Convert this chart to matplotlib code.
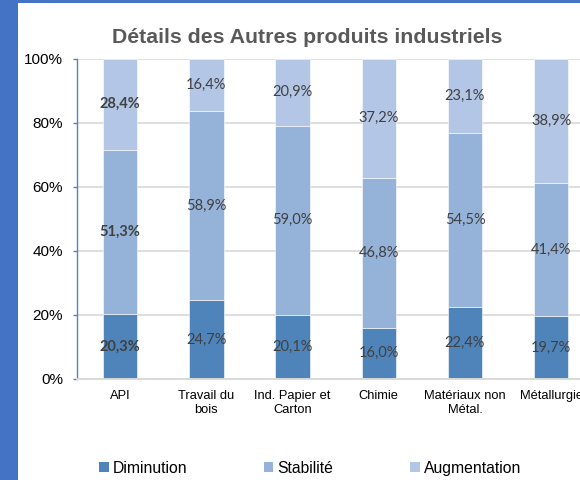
import matplotlib
matplotlib.use("Agg")
import matplotlib.pyplot as plt
from matplotlib.patches import Rectangle, Patch
from matplotlib.ticker import FuncFormatter
import numpy as np

categories = ["API", "Travail du\nbois", "Ind. Papier et\nCarton", "Chimie",
              "Matériaux non\nMétal.", "Métallurgie"]
series_names = ["Diminution", "Stabilité", "Augmentation"]
diminution = [20.3, 24.7, 20.1, 16.0, 22.4, 19.7]
stabilite = [51.3, 58.9, 59.0, 46.8, 54.5, 41.4]
augmentation = [28.4, 16.4, 20.9, 37.2, 23.1, 38.9]
title = "Détails des Autres produits industriels"

colors = ["#4F84BA", "#95B3D9", "#B3C6E6"]
W, H = 580, 480
fig = plt.figure(figsize=(W / 100, H / 100), dpi=100)
fig.patch.set_facecolor("white")

# blue frame (left strip + top strip)
fig.patches.append(Rectangle((0, 0), 17.5 / W, 1, transform=fig.transFigure,
                             facecolor="#4472C4", edgecolor="none", zorder=0))
fig.patches.append(Rectangle((0, 1 - 3 / H), 1, 3 / H, transform=fig.transFigure,
                             facecolor="#4472C4", edgecolor="none", zorder=0))

ax = fig.add_axes([77 / W, 1 - 379 / H, 1 - 77 / W, (379 - 58.7) / H])
x = np.arange(len(categories))
series = [diminution, stabilite, augmentation]
bottom = np.zeros(len(categories))
containers = []
for vals, col, name in zip(series, colors, series_names):
    c = ax.bar(x, vals, width=0.40, bottom=bottom, color=col, label=name,
               edgecolor="white", linewidth=0.4, zorder=2)
    containers.append(c)
    bottom = bottom + np.array(vals)

for c, vals in zip(containers, series):
    labels = [f"{v:.1f}".replace(".", ",") + "%" for v in vals]
    texts = ax.bar_label(c, labels=labels, label_type="center",
                         fontsize=10.5, color="#404040", family="Lato")
    texts[0].set_fontweight("bold")

ax.set_ylim(0, 100)
ax.set_xlim(-0.5, (W - 120.2) / 86.2)
ax.set_yticks([0, 20, 40, 60, 80, 100])
ax.yaxis.set_major_formatter(FuncFormatter(lambda v, p: f"{int(v)}%"))
ax.set_xticks(x)
ax.set_xticklabels(categories, family="Liberation Sans", fontsize=9.3, color="#000000")
for lbl in ax.get_yticklabels():
    lbl.set_family("Liberation Sans")
ax.tick_params(axis="y", labelsize=11, length=3, width=1, color="#4F85C0",
               pad=7, labelcolor="#000000")
ax.tick_params(axis="x", length=0, pad=8)
ax.grid(axis="y", color="#D9D9D9", linewidth=1.2, zorder=0)
ax.set_axisbelow(True)
for s in ["top", "right"]:
    ax.spines[s].set_visible(False)
ax.spines["left"].set_color("#4F85C0")
ax.spines["left"].set_linewidth(1.0)
ax.spines["bottom"].set_color("#D9D9D9")
ax.spines["bottom"].set_linewidth(1.4)

fig.text(306.7 / W, 1 - 37.5 / H, title, ha="center", va="center",
         fontsize=15.3, fontweight="bold", color="#595959", family="Liberation Sans")

handles = [Patch(facecolor=col, edgecolor="none") for col in colors]
fig.legend(handles, series_names, loc="center", bbox_to_anchor=(310 / W, 1 - 468.5 / H),
           ncol=3, frameon=False, prop={"family": "Liberation Sans", "size": 11.3},
           handlelength=0.6, handleheight=0.6, handletextpad=0.25, columnspacing=4.9,
           borderaxespad=0, borderpad=0)

fig.savefig("out.png", dpi=100, facecolor="white")
